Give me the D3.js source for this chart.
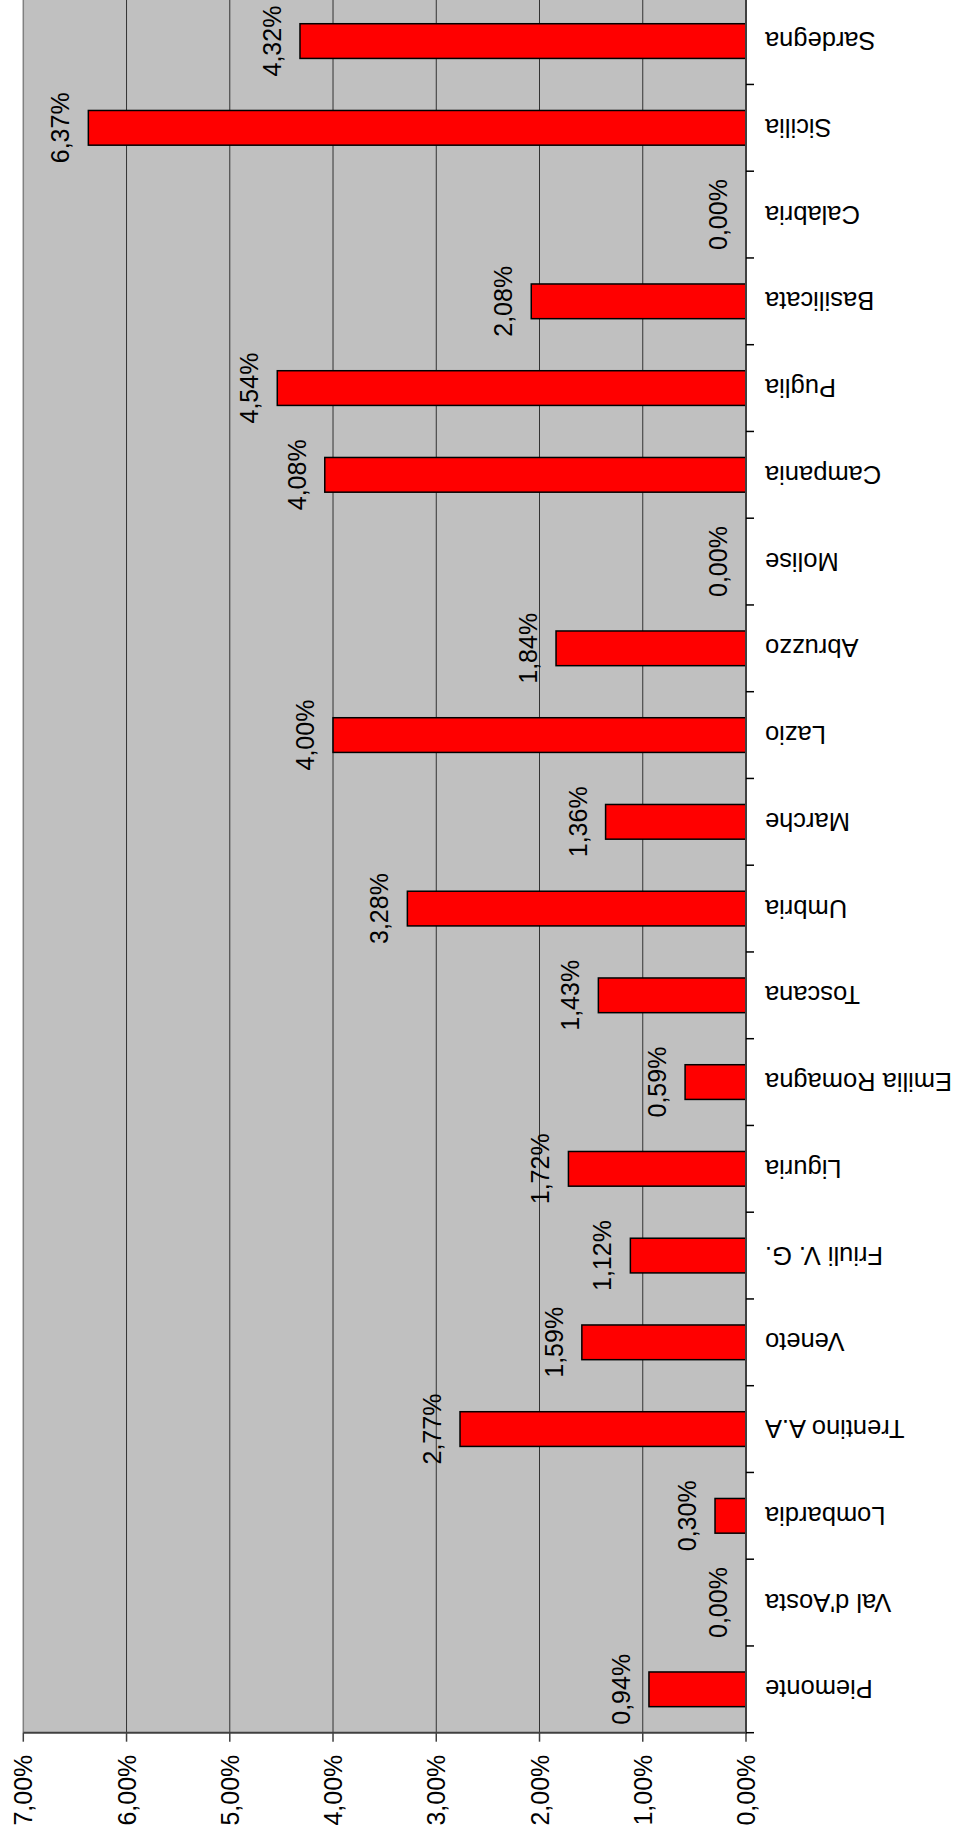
<!DOCTYPE html>
<html>
<head>
<meta charset="utf-8">
<script src="https://cdn.jsdelivr.net/npm/d3@7"></script>
<style>
  html, body { margin: 0; padding: 0; background: #fff; }
  svg { display: block; }
  text { font-family: "Liberation Sans", Arial, sans-serif; fill: #000; }
</style>
</head>
<body>
<svg id="chart" width="960" height="1840"></svg>
<script>
// Data (from bottom of picture to top)
const categories = ["Piemonte", "Val d'Aosta", "Lombardia", "Trentino A.A", "Veneto", "Friuli V. G.", "Liguria", "Emilia Romagna", "Toscana", "Umbria", "Marche", "Lazio", "Abruzzo", "Molise", "Campania", "Puglia", "Basilicata", "Calabria", "Sicilia", "Sardegna"];
const values = [0.94, 0.00, 0.30, 2.77, 1.59, 1.12, 1.72, 0.59, 1.43, 3.28, 1.36, 4.00, 1.84, 0.00, 4.08, 4.54, 2.08, 0.00, 6.37, 4.32];
const valueTicks = [0, 1, 2, 3, 4, 5, 6, 7];
const fmt = v => v.toFixed(2).replace(".", ",") + "%";

const svg = d3.select("#chart");
const plot = { left: 23.3, right: 746, top: -2.3, bottom: 1732.7 };

const x = d3.scaleLinear().domain([0, 7]).range([plot.right, plot.left]);
const y = d3.scaleBand().domain(categories).range([plot.bottom, plot.top]).paddingInner(0.6).paddingOuter(0.3);
const yb = d3.scaleBand().domain(categories).range([plot.bottom, plot.top]);

// plot background
svg.append("rect")
  .attr("x", plot.left).attr("y", plot.top)
  .attr("width", plot.right - plot.left).attr("height", plot.bottom - plot.top)
  .attr("fill", "#c0c0c0");

// gridlines
svg.append("g").selectAll("line")
  .data(valueTicks.filter(t => t > 0 && t < 7))
  .join("line")
  .attr("x1", d => x(d)).attr("x2", d => x(d))
  .attr("y1", plot.top).attr("y2", plot.bottom)
  .attr("stroke", "#333").attr("stroke-width", 1);

// left border of plot
svg.append("line")
  .attr("x1", x(7)).attr("x2", x(7)).attr("y1", plot.top).attr("y2", plot.bottom)
  .attr("stroke", "#808080").attr("stroke-width", 1.5);

// bars
svg.append("g").selectAll("rect")
  .data(categories.map((c, i) => ({ c, v: values[i] })))
  .join("rect")
  .attr("x", d => x(d.v))
  .attr("y", d => y(d.c))
  .attr("width", d => x(0) - x(d.v))
  .attr("height", y.bandwidth())
  .attr("fill", "#ff0000")
  .attr("stroke", d => d.v > 0 ? "#000" : "none")
  .attr("stroke-width", 1.5);

// data labels
svg.append("g").selectAll("text")
  .data(categories.map((c, i) => ({ c, v: values[i] })))
  .join("text")
  .attr("transform", d => `translate(${x(d.v) - 19},${y(d.c) + y.bandwidth() / 2}) rotate(-90)`)
  .attr("text-anchor", "middle")
  .attr("font-size", 25)
  .text(d => fmt(d.v));

// value axis (bottom)
const xAxis = svg.append("g");
xAxis.append("line")
  .attr("x1", plot.left).attr("x2", plot.right + 1)
  .attr("y1", plot.bottom).attr("y2", plot.bottom)
  .attr("stroke", "#404040").attr("stroke-width", 2);
xAxis.selectAll("line.tick").data(valueTicks).join("line")
  .attr("class", "tick")
  .attr("x1", d => x(d)).attr("x2", d => x(d))
  .attr("y1", plot.bottom).attr("y2", plot.bottom + 9)
  .attr("stroke", "#404040").attr("stroke-width", 1.5);
xAxis.selectAll("text").data(valueTicks).join("text")
  .attr("transform", d => `translate(${x(d)},${plot.bottom + 22}) rotate(-90)`)
  .attr("text-anchor", "end")
  .attr("dominant-baseline", "central")
  .attr("font-size", 25)
  .text(d => fmt(d));

// category axis (right)
const yAxis = svg.append("g");
yAxis.append("line")
  .attr("x1", plot.right).attr("x2", plot.right)
  .attr("y1", plot.top).attr("y2", plot.bottom + 1)
  .attr("stroke", "#404040").attr("stroke-width", 2);
const boundaries = categories.map(c => yb(c));
boundaries.push(plot.bottom);
yAxis.selectAll("line.tick").data(boundaries).join("line")
  .attr("class", "tick")
  .attr("x1", plot.right).attr("x2", plot.right + 8)
  .attr("y1", d => d).attr("y2", d => d)
  .attr("stroke", "#000").attr("stroke-width", 1.5);
yAxis.selectAll("text").data(categories).join("text")
  .attr("transform", d => `translate(${plot.right + 19},${yb(d) + yb.bandwidth() / 2}) rotate(180)`)
  .attr("text-anchor", "end")
  .attr("dominant-baseline", "central")
  .attr("font-size", 25.5)
  .text(d => d);
</script>
</body>
</html>
